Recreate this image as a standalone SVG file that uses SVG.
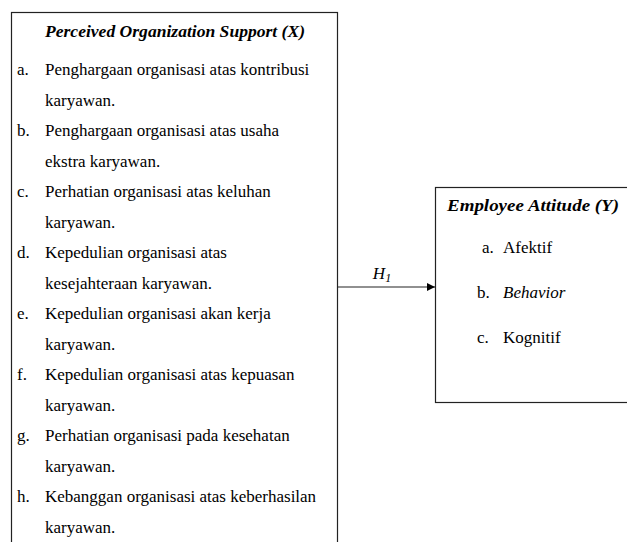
<svg xmlns="http://www.w3.org/2000/svg" width="627" height="542" viewBox="0 0 627 542">
<style>
.box{fill:#fff;stroke:#222;stroke-width:1.2}
text{font-family:'Liberation Serif','Times New Roman','DejaVu Serif',serif;font-size:17px;fill:#000}
.bi{font-weight:bold;font-style:italic}
.i{font-style:italic}
.conn{stroke:#222;stroke-width:1.2;fill:none}
</style>
<defs>
<marker id="ah" viewBox="0 0 10 10" refX="10" refY="5" markerWidth="8" markerHeight="8" markerUnits="userSpaceOnUse" orient="auto">
<path d="M0,0 L10,5 L0,10 z" fill="#000"/>
</marker>
</defs>
<rect width="627" height="542" fill="#fff"/>
<g id="node-x">
<rect class="box" x="11.5" y="12.5" width="326" height="560"/>
<text class="bi" x="45" y="37" textLength="260" lengthAdjust="spacingAndGlyphs">Perceived Organization Support (X)</text>
<text x="17" y="75">a.</text><text x="45" y="75">Penghargaan organisasi atas kontribusi</text>
<text x="45" y="105.5">karyawan.</text>
<text x="17" y="136">b.</text><text x="45" y="136">Penghargaan organisasi atas usaha</text>
<text x="45" y="166.5">ekstra karyawan.</text>
<text x="17" y="197">c.</text><text x="45" y="197">Perhatian organisasi atas keluhan</text>
<text x="45" y="227.5">karyawan.</text>
<text x="17" y="258">d.</text><text x="45" y="258">Kepedulian organisasi atas</text>
<text x="45" y="288.5">kesejahteraan karyawan.</text>
<text x="17" y="319">e.</text><text x="45" y="319">Kepedulian organisasi akan kerja</text>
<text x="45" y="349.5">karyawan.</text>
<text x="17" y="380">f.</text><text x="45" y="380">Kepedulian organisasi atas kepuasan</text>
<text x="45" y="410.5">karyawan.</text>
<text x="17" y="441">g.</text><text x="45" y="441">Perhatian organisasi pada kesehatan</text>
<text x="45" y="471.5">karyawan.</text>
<text x="17" y="502">h.</text><text x="45" y="502">Kebanggan organisasi atas keberhasilan</text>
<text x="45" y="532.5">karyawan.</text>
</g>
<g id="node-y">
<rect class="box" x="435.5" y="187.5" width="220" height="215"/>
<text class="bi" x="447" y="211" textLength="172" lengthAdjust="spacingAndGlyphs">Employee Attitude (Y)</text>
<text x="482" y="253">a.</text><text x="503" y="253">Afektif</text>
<text x="477" y="298">b.</text><text x="503" y="298" class="i">Behavior</text>
<text x="477" y="343">c.</text><text x="503" y="343">Kognitif</text>
</g>
<g id="connectors">
<line class="conn" x1="338" y1="287" x2="435" y2="287" marker-end="url(#ah)"/>
<text class="i" x="382" y="279" text-anchor="middle">H<tspan font-size="12" dy="3">1</tspan></text>
</g>
</svg>
